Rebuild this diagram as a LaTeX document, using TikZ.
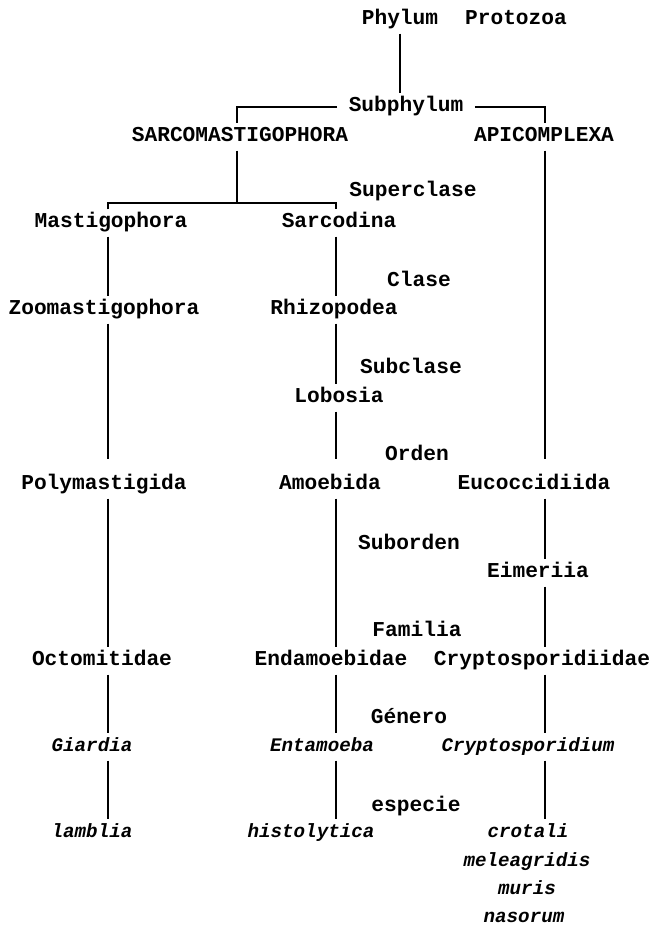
\documentclass[tikz,border=0pt]{standalone}
\usepackage{fontspec}
\newfontfamily\taxfont{Liberation Mono}
\tikzset{every picture/.style={line width=1.5pt}}
\tikzset{
  tax/.style={font=\taxfont\bfseries\fontsize{15.9}{18}\selectfont, text height=9pt, text depth=2pt, inner ysep=4pt, inner xsep=4pt},
  gen/.style={tax, font=\taxfont\bfseries\itshape\fontsize{14.4}{16}\selectfont},
  rank/.style={tax},
  cut/.style={shorten >=9pt}
}

\begin{document}
\begin{tikzpicture}[x=0.75pt,y=0.75pt,yscale=-1]
        \useasboundingbox (0,0) rectangle (654,925);
        %columns of the tree
        \coordinate (colL) at (108,0);
        \coordinate (colS) at (237,0);
        \coordinate (colM) at (336,0);
        \coordinate (colR) at (545,0);
        \coordinate (fork) at (237,203);

        %Phylum and Subphylum
        \node [rank] (phylum) at (400,20) {Phylum};
        \node [tax] (protozoa) at (516,20) {Protozoa};
        \node [rank, inner xsep=8pt] (subph) at (406,107) {Subphylum};
        \node [tax] (sarco) at (240,137) {SARCOMASTIGOPHORA};
        \node [tax] (apico) at (544,137) {APICOMPLEXA};

        %rank labels
        \node [rank] (superclase) at (413,192) {Superclase};
        \node [rank] (clase) at (419,282) {Clase};
        \node [rank] (subclase) at (411,369) {Subclase};
        \node [rank] (orden) at (417,456) {Orden};
        \node [rank] (suborden) at (409,545) {Suborden};
        \node [rank] (familia) at (417,632) {Familia};
        \node [rank] (genero) at (409,719) {Género};
        \node [rank] (especie) at (416,807) {especie};

        %left branch
        \node [tax] (mast) at (111,223) {Mastigophora};
        \node [tax] (zoo) at (104,310) {Zoomastigophora};
        \node [tax] (poly) at (104,485) {Polymastigida};
        \node [tax] (octo) at (102,661) {Octomitidae};
        \node [gen] (giard) at (92,747) {Giardia};
        \node [gen] (lamb) at (92,833) {lamblia};

        %middle branch
        \node [tax] (sarcod) at (339,223) {Sarcodina};
        \node [tax] (rhizo) at (334,310) {Rhizopodea};
        \node [tax] (lobosia) at (339,398) {Lobosia};
        \node [tax] (amoeb) at (330,485) {Amoebida};
        \node [tax] (endam) at (331,661) {Endamoebidae};
        \node [gen] (entam) at (322,747) {Entamoeba};
        \node [gen] (histo) at (311,833) {histolytica};

        %right branch
        \node [tax] (eucocc) at (534,485) {Eucoccidiida};
        \node [tax] (eimer) at (538,573) {Eimeriia};
        \node [tax] (crypt) at (542,661) {Cryptosporidiidae};
        \node [gen] (cryptgen) at (528,747) {Cryptosporidium};
        \node [gen] (crot) at (528,833) {crotali};
        \node [gen] (melea) at (527,862) {meleagridis};
        \node [gen] (muris) at (527,890) {muris};
        \node [gen] (naso) at (524,918) {nasorum};

        %connectors at the top
        \draw (phylum.south) -- (phylum.south |- subph.north);
        \draw (subph.west) -| (sarco.north -| colS);
        \draw (subph.east) -| (apico.north -| colR);
        \draw (sarco.south -| fork) -- (fork);
        \draw (mast.north -| colL) |- (fork) -| (sarcod.north -| colM);

        %left column
        \draw (mast.south -| colL) -- (zoo.north -| colL);
        \draw [cut] (zoo.south -| colL) -- (poly.north -| colL);
        \draw (poly.south -| colL) -- (octo.north -| colL);
        \draw (octo.south -| colL) -- (giard.north -| colL);
        \draw (giard.south -| colL) -- (lamb.north -| colL);

        %middle column
        \draw (sarcod.south -| colM) -- (rhizo.north -| colM);
        \draw (rhizo.south -| colM) -- (lobosia.north -| colM);
        \draw [cut] (lobosia.south -| colM) -- (amoeb.north -| colM);
        \draw (amoeb.south -| colM) -- (endam.north -| colM);
        \draw (endam.south -| colM) -- (entam.north -| colM);
        \draw (entam.south -| colM) -- (histo.north -| colM);

        %right column
        \draw [cut] (apico.south -| colR) -- (eucocc.north -| colR);
        \draw (eucocc.south -| colR) -- (eimer.north -| colR);
        \draw (eimer.south -| colR) -- (crypt.north -| colR);
        \draw (crypt.south -| colR) -- (cryptgen.north -| colR);
        \draw (cryptgen.south -| colR) -- (crot.north -| colR);

\end{tikzpicture}
\end{document}
